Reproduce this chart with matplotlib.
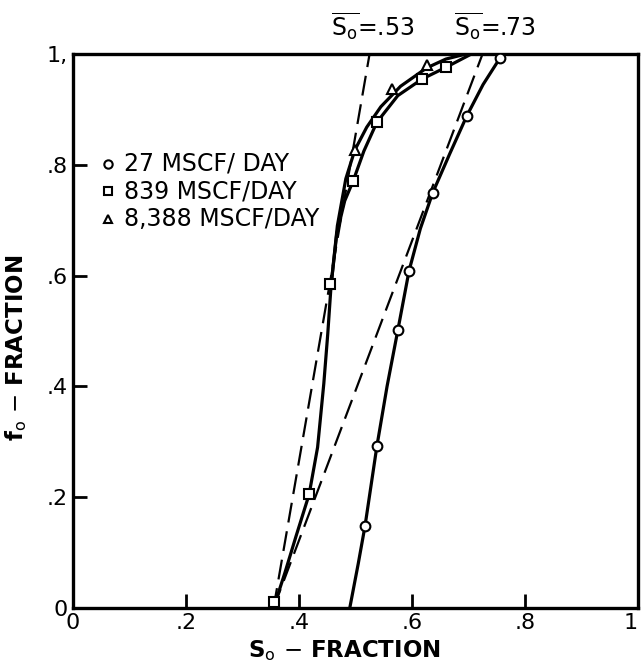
import matplotlib
matplotlib.use("Agg")
import matplotlib.pyplot as plt

# --- data ---
rate_labels = ["27 MSCF/ DAY", "839 MSCF/DAY", "8,388 MSCF/DAY"]

# markers
circle_x = [0.517, 0.538, 0.575, 0.595, 0.637, 0.697, 0.756]
circle_y = [0.148, 0.292, 0.501, 0.609, 0.750, 0.888, 0.993]

square_x = [0.355, 0.418, 0.455, 0.496, 0.538, 0.618, 0.660]
square_y = [0.010, 0.205, 0.584, 0.771, 0.877, 0.955, 0.976]

tri_x = [0.499, 0.565, 0.626]
tri_y = [0.827, 0.937, 0.980]

# hand-drawn curves
curve_sq_x = [0.355, 0.375, 0.395, 0.418, 0.433, 0.444, 0.451, 0.457, 0.467,
              0.481, 0.496, 0.515, 0.538, 0.575, 0.618, 0.660, 0.705]
curve_sq_y = [0.000, 0.063, 0.130, 0.205, 0.290, 0.405, 0.495, 0.584, 0.676,
              0.735, 0.771, 0.825, 0.877, 0.925, 0.955, 0.976, 1.000]

curve_tri_x = [0.457, 0.468, 0.483, 0.499, 0.520, 0.545, 0.580, 0.626, 0.660, 0.695]
curve_tri_y = [0.584, 0.690, 0.775, 0.827, 0.868, 0.905, 0.942, 0.975, 0.991, 1.000]

curve_c_x = [0.490, 0.505, 0.517, 0.538, 0.556, 0.575, 0.595, 0.615, 0.637,
             0.667, 0.697, 0.726, 0.756]
curve_c_y = [0.000, 0.080, 0.148, 0.292, 0.400, 0.501, 0.609, 0.685, 0.750,
             0.820, 0.888, 0.945, 0.993]

# tangent lines giving average saturation
dash1_x = [0.355, 0.525]
dash1_y = [0.0, 1.0]
dash2_x = [0.355, 0.725]
dash2_y = [0.0, 1.0]
tangent_labels = [r"$\overline{\mathrm{S_o}}$=.53", r"$\overline{\mathrm{S_o}}$=.73"]
tangent_label_x = [0.531, 0.747]

ticks = [0, 0.2, 0.4, 0.6, 0.8, 1.0]
xtick_labels = ["0", ".2", ".4", ".6", ".8", "1"]
ytick_labels = ["0", ".2", ".4", ".6", ".8", "1,"]

plt.rcParams["font.family"] = ["DejaVu Sans"]
plt.rcParams["mathtext.fontset"] = "dejavusans"

fig = plt.figure(figsize=(6.41, 6.68), dpi=100)
ax = fig.add_axes([0.114, 0.09, 0.881, 0.829])

lw = 2.3
ax.plot(curve_sq_x, curve_sq_y, color="black", lw=lw, zorder=2)
ax.plot(curve_tri_x, curve_tri_y, color="black", lw=lw, zorder=2)
ax.plot(curve_c_x, curve_c_y, color="black", lw=lw, zorder=2)

ax.plot(dash1_x, dash1_y, color="black", lw=1.6, dashes=(9, 4), zorder=2)
ax.plot(dash2_x, dash2_y, color="black", lw=1.6, dashes=(9, 4), zorder=2)

mk = dict(color="white", markeredgecolor="black", markeredgewidth=1.5,
          linestyle="none", zorder=3)
ax.plot(circle_x, circle_y, marker="o", markersize=7, **mk)
ax.plot(square_x, square_y, marker="s", markersize=6.5, **mk)
ax.plot(tri_x, tri_y, marker="^", markersize=7, **mk)

ax.set_xlim(0, 1)
ax.set_ylim(0, 1)
ax.set_xticks(ticks)
ax.set_xticklabels(xtick_labels)
ax.set_yticks(ticks)
ax.set_yticklabels(ytick_labels)
ax.tick_params(direction="in", length=10, width=2, labelsize=16, pad=4)
ax.get_xticklabels()[-1].set_ha("right")
for s in ax.spines.values():
    s.set_linewidth(2.4)

# legend written as text, as in the original
legend_markers = ["o", "s", "^"]
for i, (m, lab) in enumerate(zip(legend_markers, rate_labels)):
    yy = 0.802 - i * 0.05
    ax.plot([0.062], [yy], marker=m, markersize=6, color="white",
            markeredgecolor="black", markeredgewidth=1.5, linestyle="none",
            clip_on=False)
    ax.text(0.09, yy, lab, fontsize=17, va="center", ha="left")

for lab, xx in zip(tangent_labels, tangent_label_x):
    ax.text(xx, 1.022, lab, fontsize=17, ha="center", va="bottom")

ax.set_xlabel(r"S$_\mathrm{o}$ $-$ FRACTION", fontsize=16.5, fontweight="bold",
              labelpad=2)
ax.xaxis.set_label_coords(0.48, -0.055)
ax.set_ylabel(r"f$_\mathrm{o}$ $-$ FRACTION", fontsize=16.5, fontweight="bold",
              labelpad=4)
ax.yaxis.set_label_coords(-0.078, 0.47)

fig.savefig("out.png", dpi=100)
